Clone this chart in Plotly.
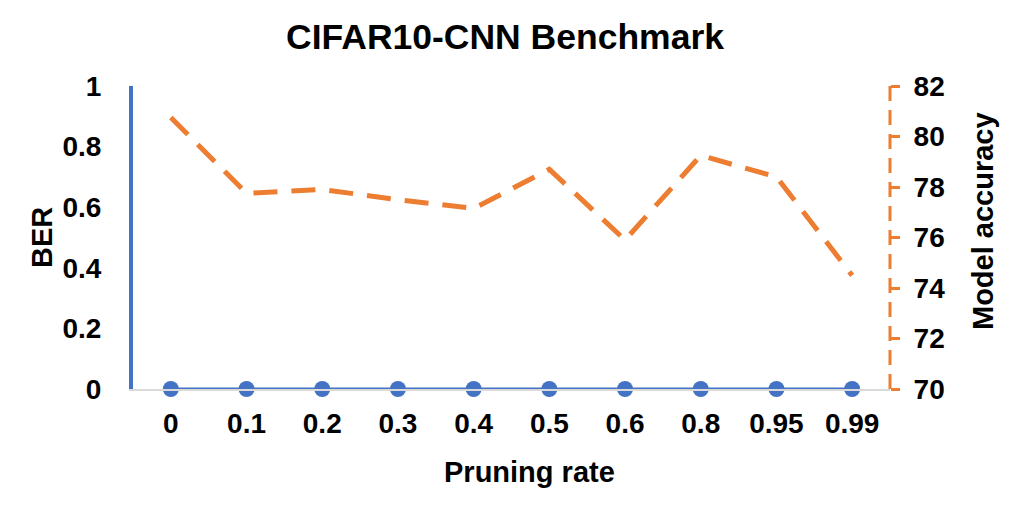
import plotly.graph_objects as go

categories = ["0", "0.1", "0.2", "0.3", "0.4", "0.5", "0.6", "0.8", "0.95", "0.99"]
ber = [0, 0, 0, 0, 0, 0, 0, 0, 0, 0]
accuracy = [80.75, 77.75, 77.9, 77.5, 77.15, 78.7, 75.9, 79.25, 78.4, 74.5]

BLUE = "#4472C4"
ORANGE = "#ED7D31"
FONT = "Liberation Sans"

OFF = 8  # default body margin of the html page
W, H = 1011 - OFF, 506 - OFF
# plot area in page pixels: x 133..890, y 86..389
L, R, T, B = 133 - OFF, 1011 - 890, 86 - OFF, 506 - 389
PW, PH = W - L - R, H - T - B


def px_x(x):
    return (x - OFF - L) / PW


def px_y(y):
    return (H - B - (y - OFF)) / PH


fig = go.Figure()
fig.add_trace(go.Scatter(
    x=categories, y=ber, mode="lines+markers",
    line=dict(color=BLUE, width=3),
    marker=dict(color=BLUE, size=16),
    cliponaxis=False, name="BER", yaxis="y"))
fig.add_trace(go.Scatter(
    x=categories, y=accuracy, mode="lines",
    line=dict(color=ORANGE, width=5, dash="24px,14px"),
    cliponaxis=False, name="Model accuracy", yaxis="y2"))

tickfont = dict(family=FONT, size=28, color="black", weight="bold")

fig.update_layout(
    width=W, height=H,
    margin=dict(l=L, r=R, t=T, b=B),
    plot_bgcolor="white", paper_bgcolor="white",
    showlegend=False,
    title=dict(text="CIFAR10-CNN Benchmark", x=(505 - OFF) / W, xref="container", xanchor="center",
               y=1 - (37 - OFF) / H, yref="container", yanchor="middle",
               font=dict(family=FONT, size=35.5, color="black", weight="bold")),
    xaxis=dict(type="category", range=[-0.5, 9.5], showgrid=False, zeroline=False,
               showline=True, linecolor="#D9D9D9", linewidth=2, ticks="",
               tickfont=tickfont, ticklabelstandoff=8),
    yaxis=dict(range=[0, 1], dtick=0.2, showgrid=False, zeroline=False,
               showline=True, linecolor=BLUE, linewidth=4, ticks="",
               tickfont=tickfont, ticklabelstandoff=22),
    yaxis2=dict(range=[70, 82], dtick=2, overlaying="y", side="right",
                showgrid=False, zeroline=False, showline=False,
                ticks="outside", ticklen=9, tickwidth=3, tickcolor=ORANGE,
                tickfont=tickfont, ticklabelstandoff=8),
    shapes=[dict(type="line", xref="paper", yref="paper", x0=1, x1=1, y0=0, y1=1,
                 line=dict(color=ORANGE, width=3, dash="15px,9px"))],
    annotations=[
        dict(text="Pruning rate", xref="paper", yref="paper", x=px_x(529), y=px_y(472),
             xanchor="center", yanchor="middle", showarrow=False,
             font=dict(family=FONT, size=29, color="black", weight="bold")),
        dict(text="BER", xref="paper", yref="paper", x=px_x(42), y=px_y(238),
             xanchor="center", yanchor="middle", showarrow=False, textangle=-90,
             font=dict(family=FONT, size=29, color="black", weight="bold")),
        dict(text="Model accuracy", xref="paper", yref="paper", x=px_x(983), y=px_y(221),
             xanchor="center", yanchor="middle", showarrow=False, textangle=-90,
             font=dict(family=FONT, size=29, color="black", weight="bold")),
    ],
)

fig.write_html("out.html")
